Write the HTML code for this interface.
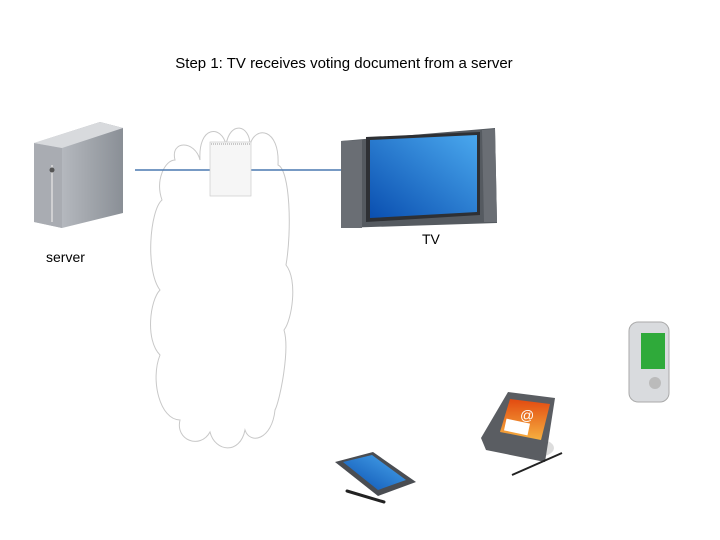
<!DOCTYPE html>
<html><head><style>body{margin:0;background:#fff}svg{display:block}text{font-family:"Liberation Sans",sans-serif}</style></head><body>
<svg width="720" height="540" viewBox="0 0 720 540" xmlns="http://www.w3.org/2000/svg">
<defs>
<linearGradient id="srv" x1="0" x2="1"><stop offset="0" stop-color="#c8cbd0"/><stop offset="1" stop-color="#8a8f96"/></linearGradient>
<linearGradient id="scr" x1="0" y1="1" x2="1" y2="0"><stop offset="0" stop-color="#0a4fb0"/><stop offset="1" stop-color="#4aa8ee"/></linearGradient>
<linearGradient id="org" x1="0" y1="0" x2="0" y2="1"><stop offset="0" stop-color="#e24a10"/><stop offset="1" stop-color="#f6b040"/></linearGradient>
</defs>
<text x="344" y="68" font-size="15" text-anchor="middle" fill="#000">Step 1: TV receives voting document from a server</text>
<!-- cloud -->
<path d="M175,160 C170,140 195,140 200,160 C198,125 222,125 226,145 C230,120 250,125 250,145 C255,125 280,128 278,165 C290,170 292,230 286,265 C298,280 292,320 284,330 C290,350 280,400 275,410 C272,440 250,445 245,430 C240,455 215,452 210,432 C200,450 175,440 180,420 C160,420 150,380 160,355 C145,340 150,300 160,290 C145,270 150,210 162,200 C155,180 165,160 175,160 Z" fill="#fff" stroke="#c8c8c8" stroke-width="1"/>
<line x1="135" y1="170" x2="343" y2="170" stroke="#4a78b0" stroke-width="1.5"/>
<!-- notepad -->
<rect x="210" y="142" width="41" height="54" fill="#f6f6f6" stroke="#ccc" stroke-width="0.7"/>
<line x1="211" y1="144" x2="250" y2="144" stroke="#999" stroke-dasharray="1,1"/>
<!-- server -->
<path d="M34,143 L100,122 L123,128 L123,213 L62,228 L34,222 Z" fill="url(#srv)"/>
<path d="M34,143 L62,148 L62,228 L34,222 Z" fill="#a9acb2"/>
<path d="M34,143 L100,122 L123,128 L62,148 Z" fill="#d8dadd"/>
<line x1="52" y1="165" x2="52" y2="222" stroke="#ddd" stroke-width="1.5"/>
<circle cx="52" cy="170" r="2.5" fill="#555"/>
<text x="46" y="262" font-size="14">server</text>
<!-- TV -->
<path d="M341,141 L495,128 L497,223 L341,228 Z" fill="#555a60"/>
<path d="M341,141 L362,140 L362,228 L341,228 Z" fill="#6a6e74"/>
<path d="M482,130 L495,129 L497,222 L484,222 Z" fill="#6a6e74"/>
<path d="M366,137 L480,132 L480,215 L366,222 Z" fill="#2e3034"/>
<path d="M370,140 L477,135 L477,212 L370,218 Z" fill="url(#scr)"/>
<text x="422" y="244" font-size="14">TV</text>
<!-- tablet -->
<path d="M335,462 L373,452 L416,482 L378,496 Z" fill="#4a4d52"/>
<path d="M343,462 L372,455 L406,480 L378,490 Z" fill="url(#scr)"/>
<line x1="347" y1="491" x2="384" y2="502" stroke="#222" stroke-width="3" stroke-linecap="round"/>
<!-- PDA -->
<ellipse cx="532" cy="448" rx="22" ry="10" fill="#ddd"/>
<path d="M508,392 L555,398 L545,462 L486,450 L481,438 Z" fill="#5a5d62"/>
<path d="M510,399 L550,404 L541,440 L500,432 Z" fill="url(#org)"/>
<text x="520" y="420" font-size="14" fill="#fff">@</text>
<rect x="505" y="421" width="24" height="12" fill="#fff" transform="rotate(12 517 427)"/>
<line x1="512" y1="475" x2="562" y2="453" stroke="#222" stroke-width="2"/>
<!-- phone -->
<rect x="629" y="322" width="40" height="80" rx="9" fill="#d9dbde" stroke="#aaa"/>
<rect x="641" y="333" width="24" height="36" fill="#2faa3a"/>
<circle cx="655" cy="383" r="6" fill="#bbb"/>
</svg>
</body></html>
